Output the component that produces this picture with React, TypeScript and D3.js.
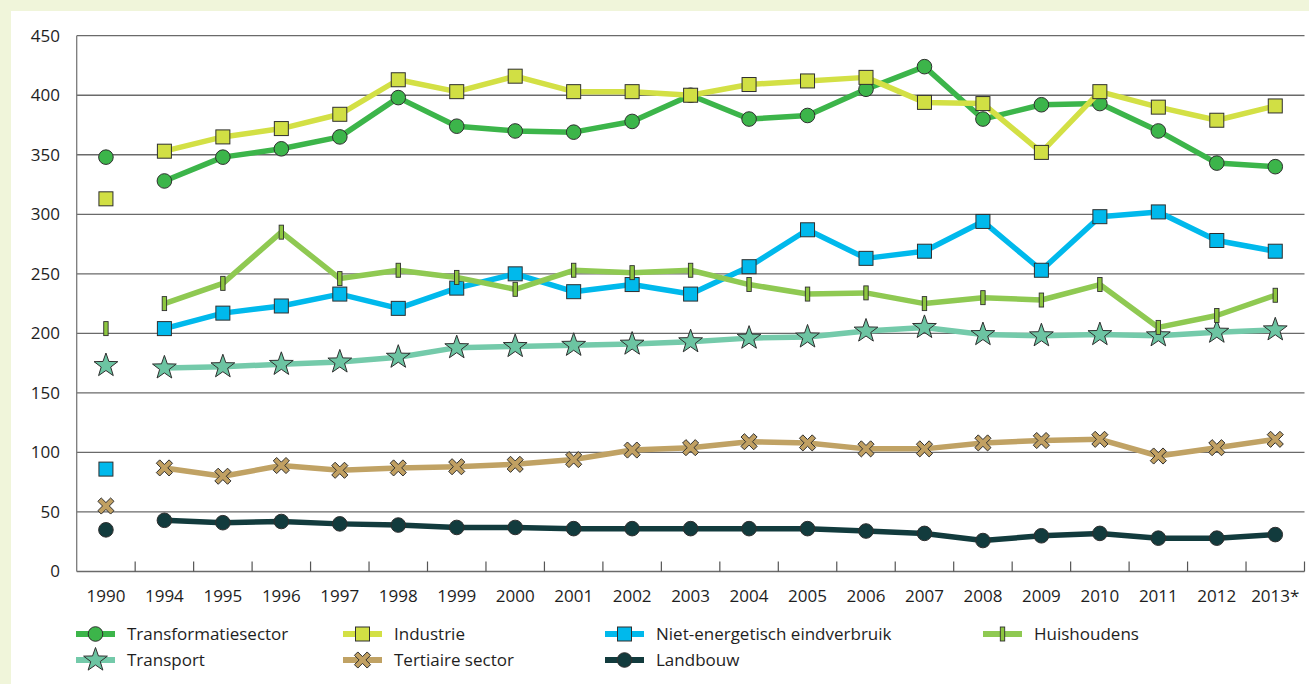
import React from 'react';
import * as d3 from 'd3';

const years = ['1990','1994','1995','1996','1997','1998','1999','2000','2001','2002','2003','2004','2005','2006','2007','2008','2009','2010','2011','2012','2013*'];
const transformatiesector = [348, 328, 348, 355, 365, 398, 374, 370, 369, 378, 400, 380, 383, 405, 424, 380, 392, 393, 370, 343, 340];
const industrie = [313, 353, 365, 372, 384, 413, 403, 416, 403, 403, 400, 409, 412, 415, 394, 393, 352, 403, 390, 379, 391];
const nietEnergetisch = [86, 204, 217, 223, 233, 221, 238, 250, 235, 241, 233, 256, 287, 263, 269, 294, 253, 298, 302, 278, 269];
const huishoudens = [204, 225, 242, 285, 246, 253, 247, 237, 253, 251, 253, 241, 233, 234, 225, 230, 228, 241, 205, 215, 232];
const transport = [173, 171, 172, 174, 176, 180, 188, 189, 190, 191, 193, 196, 197, 202, 205, 199, 198, 199, 198, 201, 203];
const tertiaire = [55, 87, 80, 89, 85, 87, 88, 90, 94, 102, 104, 109, 108, 103, 103, 108, 110, 111, 97, 104, 111];
const landbouw = [35, 43, 41, 42, 40, 39, 37, 37, 36, 36, 36, 36, 36, 34, 32, 26, 30, 32, 28, 28, 31];
const yTicks = [0, 50, 100, 150, 200, 250, 300, 350, 400, 450];

type Marker = 'circle' | 'square' | 'bar' | 'star' | 'cross';
interface Series { name: string; values: number[]; line: string; fill: string; marker: Marker; }

const seriesDraw: Series[] = [
  { name: 'Transport', values: transport, line: '#74caaa', fill: '#6cc4a2', marker: 'star' },
  { name: 'Tertiaire sector', values: tertiaire, line: '#c0a264', fill: '#c1a062', marker: 'cross' },
  { name: 'Landbouw', values: landbouw, line: '#123b3d', fill: '#123b3d', marker: 'circle' },
  { name: 'Niet-energetisch eindverbruik', values: nietEnergetisch, line: '#00b9ec', fill: '#00b9ec', marker: 'square' },
  { name: 'Huishoudens', values: huishoudens, line: '#8fc952', fill: '#8dc63f', marker: 'bar' },
  { name: 'Transformatiesector', values: transformatiesector, line: '#3cb54a', fill: '#3cb54a', marker: 'circle' },
  { name: 'Industrie', values: industrie, line: '#d3e045', fill: '#d1df44', marker: 'square' },
];

const legendRows: string[][] = [
  ['Transformatiesector', 'Industrie', 'Niet-energetisch eindverbruik', 'Huishoudens'],
  ['Transport', 'Tertiaire sector', 'Landbouw'],
];

const W = 1309, H = 684;
const left = 76.7, right = 1304.5, top = 35.7, bottom = 571.5;
const FONT = '"Open Sans", sans-serif';

function starPath(R: number): string {
  const r = R * 0.4;
  const pts: string[] = [];
  for (let i = 0; i < 10; i++) {
    const a = -Math.PI / 2 + i * Math.PI / 5;
    const rr = i % 2 === 0 ? R : r;
    pts.push(`${(rr * Math.cos(a)).toFixed(2)},${(rr * Math.sin(a)).toFixed(2)}`);
  }
  return 'M' + pts.join('L') + 'Z';
}

function crossPath(L: number, t: number): string {
  const base = [[t,-L],[t,-t],[L,-t],[L,t],[t,t],[t,L],[-t,L],[-t,t],[-L,t],[-L,-t],[-t,-t],[-t,-L]];
  const c = Math.SQRT1_2;
  const pts = base.map(([x, y]) => `${((x - y) * c).toFixed(2)},${((x + y) * c).toFixed(2)}`);
  return 'M' + pts.join('L') + 'Z';
}

const STAR = starPath(12.5);
const CROSS = crossPath(9, 2.4);

function MarkerShape({ type, x, y, fill }: { type: Marker; x: number; y: number; fill: string }) {
  const stroke = '#2f2f2f';
  switch (type) {
    case 'circle':
      return <circle cx={x} cy={y} r={7.3} fill={fill} stroke={stroke} strokeWidth={1} />;
    case 'square':
      return <rect x={x - 7} y={y - 7} width={14} height={14} fill={fill} stroke={stroke} strokeWidth={1} />;
    case 'bar':
      return <rect x={x - 2.2} y={y - 7} width={4.4} height={14} fill={fill} stroke={stroke} strokeWidth={0.9} />;
    case 'star':
      return <path d={STAR} transform={`translate(${x},${y})`} fill={fill} stroke={stroke} strokeWidth={1} strokeLinejoin="miter" />;
    case 'cross':
      return <path d={CROSS} transform={`translate(${x},${y})`} fill={fill} stroke={stroke} strokeWidth={1} />;
  }
  return null;
}

export default function App() {
  const x = d3.scaleBand<string>().domain(years).range([left, right]).padding(0);
  const y = d3.scaleLinear().domain([0, 450]).range([bottom, top]);
  const cx = (yr: string) => (x(yr) as number) + x.bandwidth() / 2;

  const line = d3.line<number>()
    .defined((_d, i) => i > 0)
    .x((_d, i) => cx(years[i]))
    .y((d) => y(d));

  const byName: Record<string, Series> = {};
  seriesDraw.forEach((s) => { byName[s.name] = s; });
  const legendX = [76, 343, 605, 983];
  const legendY = [634, 660];

  return (
    <svg width={W} height={H} style={{ position: 'absolute', left: 0, top: 0 }} fontFamily={FONT}>
      <rect x={0} y={0} width={W} height={H} fill="#f0f5da" />
      <rect x={11} y={11} width={W - 11} height={H - 11} fill="#ffffff" />

      {yTicks.map((t) => (
        <g key={t}>
          <line x1={left} x2={right} y1={y(t)} y2={y(t)} stroke="#6a6a6a" strokeWidth={1.3} />
          <text x={60} y={y(t)} dy="0.35em" textAnchor="end" fontSize={17} fill="#1e1e1e">{t}</text>
        </g>
      ))}
      <line x1={left} x2={left} y1={top} y2={bottom} stroke="#7a7a7a" strokeWidth={1.3} />
      {years.map((yr, i) => (
        <g key={yr}>
          {i > 0 && <line x1={x(yr) as number} x2={x(yr) as number} y1={bottom} y2={bottom - 10} stroke="#555" strokeWidth={1.2} />}
          <text x={cx(yr)} y={596} dy="0.35em" textAnchor="middle" fontSize={17} fill="#1e1e1e">{yr}</text>
        </g>
      ))}
      <line x1={right} x2={right} y1={bottom} y2={bottom - 10} stroke="#555" strokeWidth={1.2} />

      {seriesDraw.map((s) => (
        <g key={s.name}>
          <path d={line(s.values) || ''} fill="none" stroke={s.line} strokeWidth={5.5} strokeLinejoin="round" />
          {s.values.map((v, i) => (
            <MarkerShape key={i} type={s.marker} x={cx(years[i])} y={y(v)} fill={s.fill} />
          ))}
        </g>
      ))}

      {legendRows.map((row, ri) => row.map((name, ci) => {
        const s = byName[name];
        const lx = legendX[ci];
        const ly = legendY[ri];
        return (
          <g key={name}>
            <line x1={lx} x2={lx + 39} y1={ly} y2={ly} stroke={s.line} strokeWidth={6} />
            <MarkerShape type={s.marker} x={lx + 19.5} y={ly} fill={s.fill} />
            <text x={lx + 51} y={ly} dy="0.35em" fontSize={17} fill="#1e1e1e">{name}</text>
          </g>
        );
      }))}
    </svg>
  );
}
